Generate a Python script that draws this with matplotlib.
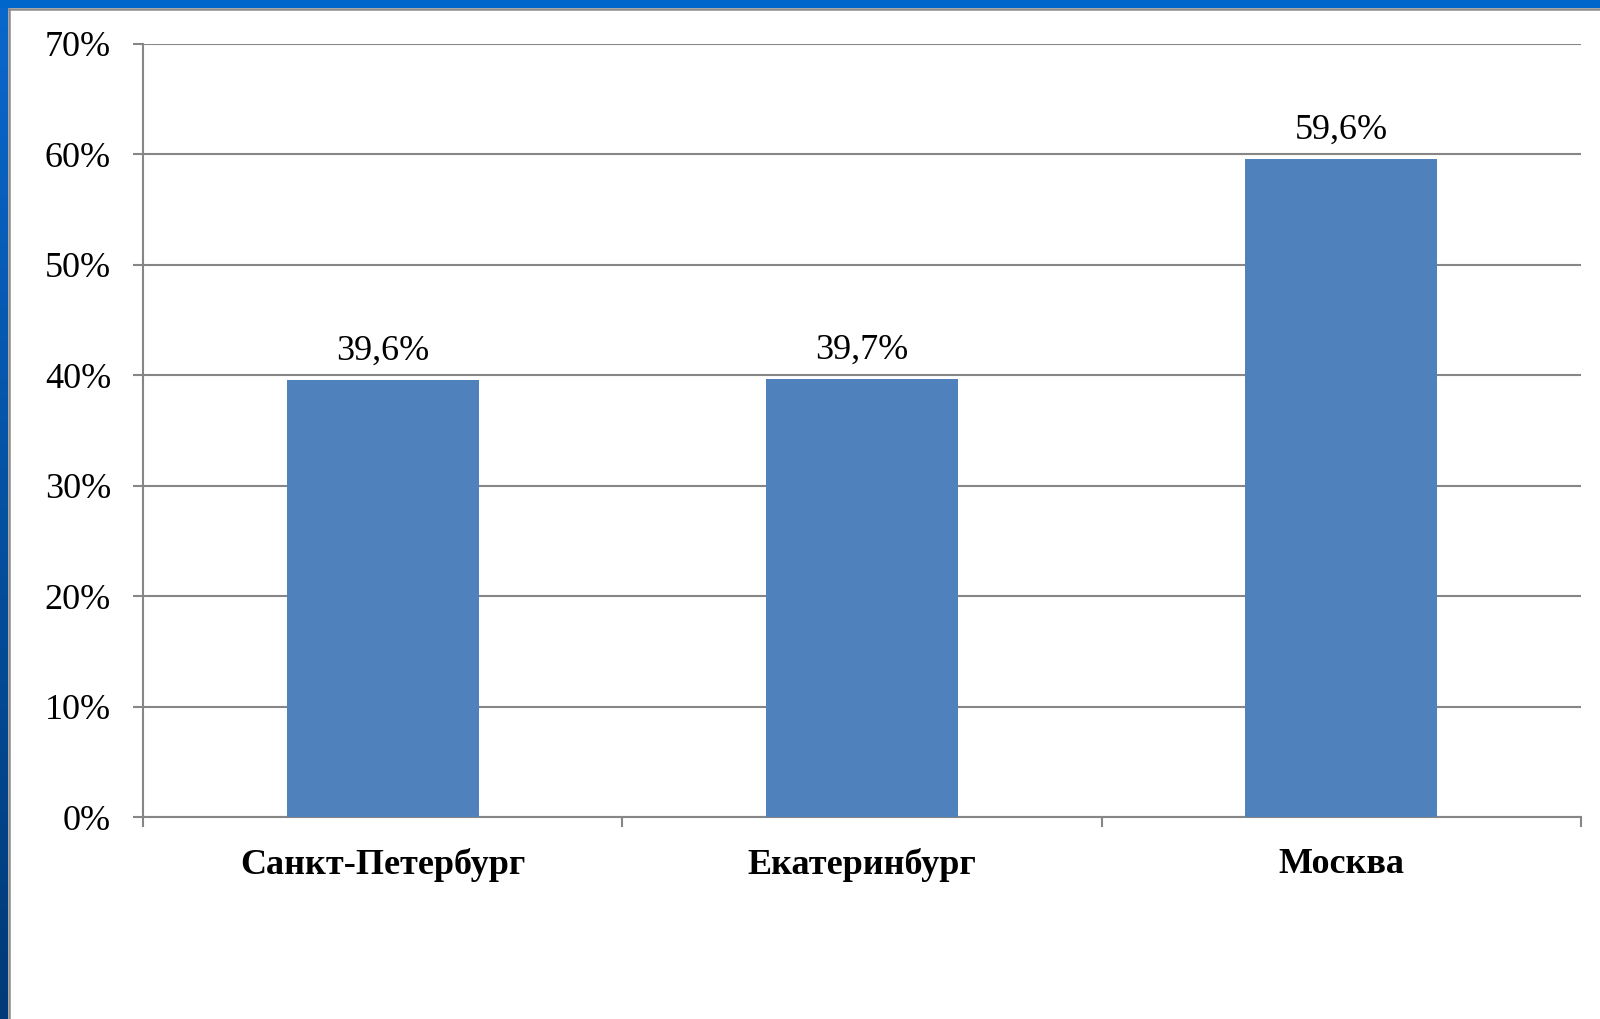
import numpy as np
import matplotlib
matplotlib.use("Agg")
import matplotlib.pyplot as plt
from matplotlib.patches import Rectangle
from matplotlib.ticker import FuncFormatter

cities = ["Санкт-Петербург", "Екатеринбург", "Москва"]
shares = [39.6, 39.7, 59.6]
share_labels = ["39,6%", "39,7%", "59,6%"]
y_ticks = [0, 10, 20, 30, 40, 50, 60, 70]

plt.rcParams['font.family'] = ['Liberation Serif', 'DejaVu Serif']

W, H = 1600, 1019
fig = plt.figure(figsize=(W / 100, H / 100), dpi=100)

# slide frame: blue band on top, gradient strip on the left, thin gray inner line
bg = fig.add_axes([0, 0, 1, 1], zorder=-10)
bg.set_xlim(0, W)
bg.set_ylim(H, 0)
bg.axis('off')
grad = np.linspace(0, 1, 256).reshape(-1, 1)
cmap = matplotlib.colors.LinearSegmentedColormap.from_list('edge', ['#0a68cc', '#003a78'])
bg.imshow(grad, cmap=cmap, extent=[0, 8, H, 0], aspect='auto')
bg.add_patch(Rectangle((0, 0), W, 8, color='#0066cc', lw=0))
bg.plot([9, W], [9, 9], color='#8c8c8c', lw=1.8)
bg.plot([9, 9], [9, H], color='#8c8c8c', lw=1.8)

left, right, top, bottom = 143, 1581, 44, 817
ax = fig.add_axes([left / W, 1 - bottom / H, (right - left) / W, (bottom - top) / H])

x = np.arange(len(cities))
ax.bar(x, shares, width=0.4, color='#4f81bd', zorder=3)
ax.set_xlim(-0.5, len(cities) - 0.5)
ax.set_ylim(0, 70)
ax.set_yticks(y_ticks)
ax.yaxis.set_major_formatter(FuncFormatter(lambda v, p: f"{v:.0f}%"))
ax.grid(axis='y', color='#868686', lw=1.5, zorder=1)

for xi, v, lab in zip(x, shares, share_labels):
    ax.annotate(lab, (xi, v), xytext=(0, 8.5), textcoords='offset points',
                ha='center', va='bottom', fontsize=26)

ax.set_xticks(x)
ax.set_xticklabels(cities, fontsize=26, fontweight='bold')
ax.set_xticks(np.arange(len(cities) + 1) - 0.5, minor=True)
ax.tick_params(axis='x', which='major', length=0, pad=22.5)
ax.tick_params(axis='x', which='minor', length=7, width=1.5, color='#868686')
ax.tick_params(axis='y', length=7, width=1.5, color='#868686', labelsize=26, pad=16)

for side in ['top', 'right']:
    ax.spines[side].set_visible(False)
for side in ['left', 'bottom']:
    ax.spines[side].set_color('#868686')
    ax.spines[side].set_linewidth(1.5)

fig.savefig('out.png', dpi=100)
